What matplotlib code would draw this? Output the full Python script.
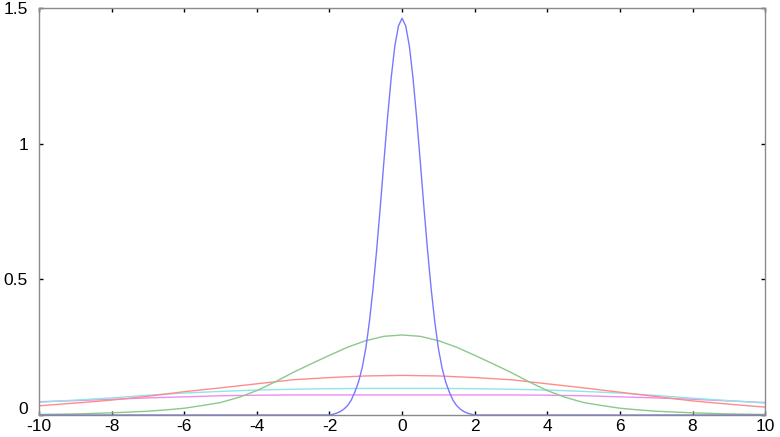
import matplotlib
matplotlib.use("Agg")
import matplotlib.pyplot as plt
import matplotlib.transforms as mtransforms

# ---- data ----
x_blue = [-10, -2.0, -1.9, -1.8, -1.7, -1.6, -1.5, -1.4, -1.3, -1.2, -1.1, -1.0,
          -0.9, -0.8, -0.7, -0.6, -0.5, -0.4, -0.3, -0.2, -0.1, 0.0,
          0.1, 0.2, 0.3, 0.4, 0.5, 0.6, 0.7, 0.8, 0.9, 1.0,
          1.1, 1.2, 1.3, 1.4, 1.5, 1.6, 1.7, 1.8, 1.9, 2.0, 10]
y_blue = [0.0, 0.0, 0.003, 0.007, 0.013, 0.022, 0.035, 0.055, 0.085, 0.122, 0.174, 0.245,
          0.344, 0.466, 0.609, 0.768, 0.935, 1.097, 1.243, 1.360, 1.434, 1.462,
          1.434, 1.360, 1.243, 1.097, 0.935, 0.768, 0.609, 0.466, 0.344, 0.245,
          0.174, 0.122, 0.085, 0.055, 0.035, 0.022, 0.013, 0.007, 0.003, 0.0, 0.0]

x_green = [-10, -9.5, -9, -8.5, -8, -7.5, -7, -6.5, -6, -5.5, -5, -4.5, -4, -3.5, -3,
           -2.5, -2, -1.5, -1, -0.5, 0, 0.5, 1, 1.5, 2, 2.5, 3, 3.5, 4, 4.5, 5,
           5.5, 6, 6.5, 7, 7.5, 8, 8.5, 9, 9.5, 10]
y_green = [0.002, 0.003, 0.004, 0.006, 0.008, 0.011, 0.014, 0.019, 0.025, 0.035, 0.046,
           0.065, 0.090, 0.122, 0.157, 0.189, 0.220, 0.250, 0.274, 0.290, 0.295,
           0.290, 0.274, 0.250, 0.220, 0.189, 0.157, 0.122, 0.090, 0.065, 0.046,
           0.035, 0.025, 0.019, 0.014, 0.011, 0.008, 0.006, 0.004, 0.003, 0.002]

x_wide = [-10, -9, -8, -7, -6, -5, -4, -3, -2, -1, 0, 1, 2, 3, 4, 5, 6, 7, 8, 9, 10]
y_red = [0.034, 0.044, 0.055, 0.069, 0.086, 0.100, 0.115, 0.130, 0.138, 0.144, 0.146,
         0.144, 0.138, 0.130, 0.115, 0.100, 0.084, 0.068, 0.052, 0.040, 0.029]
y_cyan = [0.047, 0.055, 0.063, 0.073, 0.081, 0.087, 0.092, 0.095, 0.097, 0.098, 0.098,
          0.098, 0.097, 0.095, 0.092, 0.087, 0.081, 0.072, 0.062, 0.053, 0.044]
y_magenta = [0.049, 0.053, 0.058, 0.063, 0.067, 0.071, 0.073, 0.074, 0.074, 0.074, 0.074,
             0.074, 0.074, 0.074, 0.073, 0.071, 0.067, 0.063, 0.058, 0.052, 0.046]

x_ticks = [-10, -8, -6, -4, -2, 0, 2, 4, 6, 8, 10]
y_ticks = [0, 0.5, 1, 1.5]
y_ticklabels = ["0", "0.5", "1", "1.5"]

plt.rcParams['font.family'] = ['Liberation Sans', 'DejaVu Sans']

fig = plt.figure(figsize=(7.8, 4.37), dpi=100)
ax = fig.add_axes([0.05, 0.0503, 0.931, 0.9314])

lw = 1.0
ax.plot(x_wide, y_magenta, color='#f08cf0', lw=lw)
ax.plot(x_wide, y_cyan, color='#8ce6e6', lw=lw)
ax.plot(x_wide, y_red, color='#ff8c8c', lw=lw)
ax.plot(x_green, y_green, color='#8cc88c', lw=lw)
ax.plot(x_blue, y_blue, color='#7878ff', lw=lw)

ax.set_xlim(-10, 10)
ax.set_ylim(0, 1.5)
ax.set_xticks(x_ticks)
ax.set_xticklabels([str(t) for t in x_ticks])
ax.set_yticks(y_ticks)
ax.set_yticklabels(y_ticklabels)

for s in ax.spines.values():
    s.set_color('#8a8a8a')
    s.set_linewidth(1.0)
ax.tick_params(direction='in', length=3, width=1, color='black',
               top=True, right=True, labelsize=12.5)
ax.tick_params(axis='y', pad=8)
ax.tick_params(axis='x', pad=3)

# MATLAB-like: the y "0" label sits slightly above the axis line
lbl0 = ax.get_yticklabels()[0]
lbl0.set_transform(lbl0.get_transform() +
                   mtransforms.ScaledTranslation(0, 5 / 72, fig.dpi_scale_trans))

fig.savefig('out.png', dpi=100)
